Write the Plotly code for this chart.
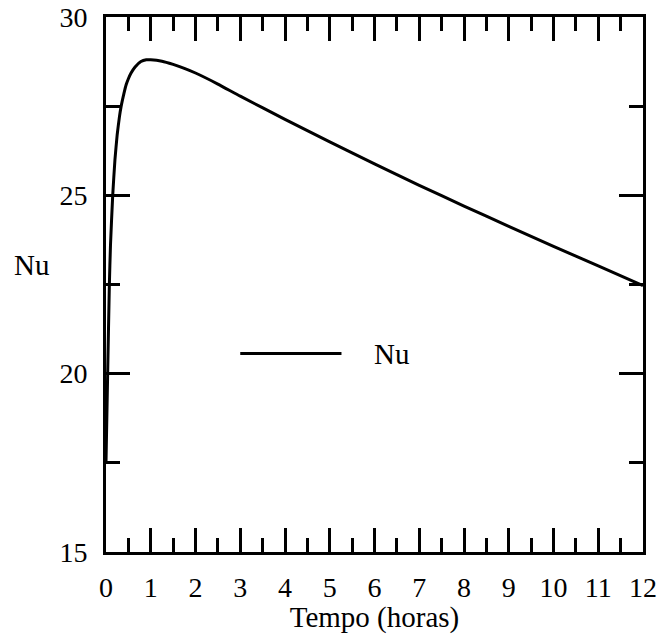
import plotly.graph_objects as go

# Data
tempo_horas = [0, 0.037, 0.075, 0.1, 0.15, 0.2, 0.25, 0.3, 0.336, 0.4, 0.45, 0.5, 0.56, 0.65, 0.78, 0.9, 1.0,
               1.25, 1.5, 1.75, 2, 2.5, 3, 4, 5, 6, 7, 8, 9, 10, 11, 12]
nu_values = [17.5, 20.0, 22.5, 23.6, 25.0, 26.0, 26.7, 27.2, 27.48, 27.85, 28.1, 28.27, 28.43, 28.6, 28.75, 28.8, 28.8,
             28.76, 28.67, 28.56, 28.43, 28.12, 27.78, 27.13, 26.5, 25.88, 25.28, 24.7, 24.13, 23.57, 23.02, 22.47]

x_ticks = list(range(0, 13))
y_ticks = [15, 20, 25, 30]
series_name = "Nu"

FONT = "Liberation Serif"
FS_TICK = 28
FS_TEXT = 29

fig = go.Figure()
fig.add_trace(go.Scatter(
    x=tempo_horas, y=nu_values, mode="lines", name=series_name,
    line=dict(color="black", width=3, shape="spline", smoothing=0.5),
    showlegend=False,
))

axis_common = dict(
    showline=True, linecolor="black", linewidth=3, mirror="ticks",
    ticks="inside", ticklen=24, tickwidth=2.5, tickcolor="black",
    showgrid=False, zeroline=False, automargin=False,
    tickfont=dict(family=FONT, size=FS_TICK, color="black"),
)

fig.update_xaxes(
    range=[0, 12], tickmode="array", tickvals=x_ticks,
    ticktext=[str(v) for v in x_ticks],
    minor=dict(ticks="inside", ticklen=14, tickwidth=2.5, tickcolor="black", dtick=0.5, tick0=0),
    ticklabelstandoff=8,
    title=dict(text="Tempo (horas)", font=dict(family=FONT, size=FS_TEXT, color="black"), standoff=0),
    **axis_common,
)
fig.update_yaxes(
    range=[15, 30], tickmode="array", tickvals=y_ticks,
    ticktext=[str(v) for v in y_ticks],
    minor=dict(ticks="inside", ticklen=14, tickwidth=2.5, tickcolor="black", dtick=2.5, tick0=15),
    ticklabelstandoff=10,
    **axis_common,
)

# Y axis title (horizontal)
fig.add_annotation(
    text="Nu", xref="paper", yref="paper", x=-0.138, y=0.536,
    xanchor="center", yanchor="middle", showarrow=False,
    font=dict(family=FONT, size=FS_TEXT, color="black"),
)

# Legend (sample line + label)
fig.add_shape(type="line", xref="paper", yref="paper",
              x0=0.25, x1=0.4385, y0=0.371, y1=0.371,
              line=dict(color="black", width=3))
fig.add_annotation(
    text=series_name, xref="paper", yref="paper", x=0.496, y=0.371,
    xanchor="left", yanchor="middle", showarrow=False,
    font=dict(family=FONT, size=FS_TEXT, color="black"),
)

fig.update_layout(
    width=658, height=634,
    margin=dict(l=106, r=15, t=17, b=82),
    plot_bgcolor="white", paper_bgcolor="white",
    font=dict(family=FONT, size=FS_TICK, color="black"),
)

fig.write_html("out.html")
